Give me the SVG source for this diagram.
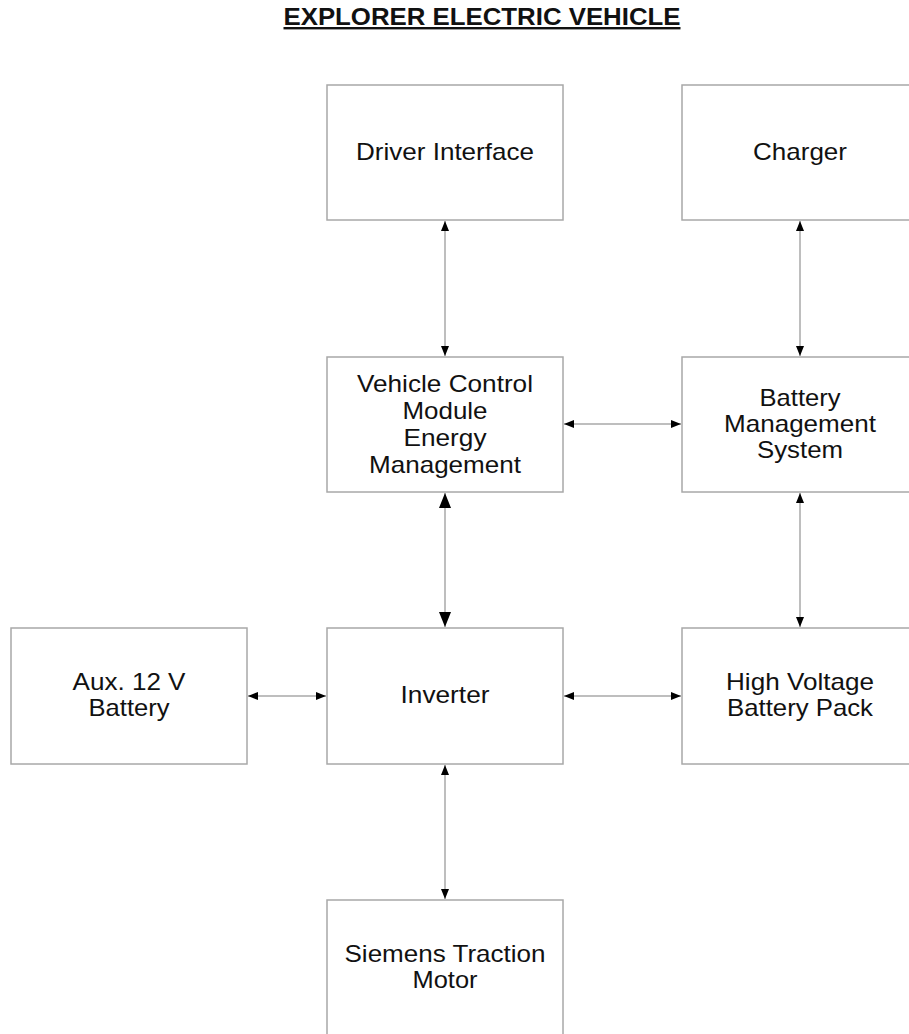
<svg xmlns="http://www.w3.org/2000/svg" width="909" height="1034" viewBox="0 0 909 1034">
<style>
.box{fill:#fff;stroke:#a8a8a8;stroke-width:1.5}
.lbl{font-family:"Liberation Sans",Arial,sans-serif;font-size:24px;fill:#111;text-anchor:middle}
.title{font-family:"Liberation Sans",Arial,sans-serif;font-size:24px;font-weight:bold;fill:#111;text-anchor:middle;text-decoration:underline}
.con{stroke:#a8a8a8;stroke-width:1.5;fill:none}
</style>
<defs>
<marker id="a" viewBox="0 0 10 8" refX="10" refY="4" markerWidth="10" markerHeight="8" markerUnits="userSpaceOnUse" orient="auto-start-reverse"><path d="M0,0 L10,4 L0,8 Z" fill="#000"/></marker>
<marker id="b" viewBox="0 0 15 12" refX="15" refY="6" markerWidth="15" markerHeight="12" markerUnits="userSpaceOnUse" orient="auto-start-reverse"><path d="M0,0 L15,6 L0,12 Z" fill="#000"/></marker>
</defs>
<rect width="909" height="1034" fill="#fff"/>
<text class="title" x="482" y="25" textLength="397" lengthAdjust="spacingAndGlyphs">EXPLORER ELECTRIC VEHICLE</text>
<g id="connectors">
<line class="con" x1="445" y1="221" x2="445" y2="356" marker-start="url(#a)" marker-end="url(#a)"/>
<line class="con" x1="800" y1="221" x2="800" y2="356" marker-start="url(#a)" marker-end="url(#a)"/>
<line class="con" x1="564" y1="424" x2="681" y2="424" marker-start="url(#a)" marker-end="url(#a)"/>
<line class="con" x1="445" y1="493" x2="445" y2="627" marker-start="url(#b)" marker-end="url(#b)"/>
<line class="con" x1="800" y1="493" x2="800" y2="627" marker-start="url(#a)" marker-end="url(#a)"/>
<line class="con" x1="248" y1="696" x2="326" y2="696" marker-start="url(#a)" marker-end="url(#a)"/>
<line class="con" x1="564" y1="696" x2="681" y2="696" marker-start="url(#a)" marker-end="url(#a)"/>
<line class="con" x1="445" y1="765" x2="445" y2="899" marker-start="url(#a)" marker-end="url(#a)"/>
</g>
<g id="driver"><rect class="box" x="327" y="85" width="236" height="135"/><text class="lbl" x="445" y="160" textLength="178" lengthAdjust="spacingAndGlyphs">Driver Interface</text></g>
<g id="charger"><rect class="box" x="682" y="85" width="236" height="135"/><text class="lbl" x="800" y="160" textLength="94" lengthAdjust="spacingAndGlyphs">Charger</text></g>
<g id="vcm"><rect class="box" x="327" y="357" width="236" height="135"/><text class="lbl" x="445" y="392" textLength="176" lengthAdjust="spacingAndGlyphs">Vehicle Control</text><text class="lbl" x="445" y="419" textLength="85" lengthAdjust="spacingAndGlyphs">Module</text><text class="lbl" x="445" y="446" textLength="83" lengthAdjust="spacingAndGlyphs">Energy</text><text class="lbl" x="445" y="473" textLength="152" lengthAdjust="spacingAndGlyphs">Management</text></g>
<g id="bms"><rect class="box" x="682" y="357" width="236" height="135"/><text class="lbl" x="800" y="406" textLength="81" lengthAdjust="spacingAndGlyphs">Battery</text><text class="lbl" x="800" y="432" textLength="152" lengthAdjust="spacingAndGlyphs">Management</text><text class="lbl" x="800" y="458" textLength="86" lengthAdjust="spacingAndGlyphs">System</text></g>
<g id="aux"><rect class="box" x="11" y="628" width="236" height="136"/><text class="lbl" x="129" y="690" textLength="113" lengthAdjust="spacingAndGlyphs">Aux. 12 V</text><text class="lbl" x="129" y="716" textLength="81" lengthAdjust="spacingAndGlyphs">Battery</text></g>
<g id="inverter"><rect class="box" x="327" y="628" width="236" height="136"/><text class="lbl" x="445" y="703" textLength="89" lengthAdjust="spacingAndGlyphs">Inverter</text></g>
<g id="hv"><rect class="box" x="682" y="628" width="236" height="136"/><text class="lbl" x="800" y="690" textLength="148" lengthAdjust="spacingAndGlyphs">High Voltage</text><text class="lbl" x="800" y="716" textLength="146" lengthAdjust="spacingAndGlyphs">Battery Pack</text></g>
<g id="motor"><rect class="box" x="327" y="900" width="236" height="140"/><text class="lbl" x="445" y="962" textLength="201" lengthAdjust="spacingAndGlyphs">Siemens Traction</text><text class="lbl" x="445" y="988" textLength="65" lengthAdjust="spacingAndGlyphs">Motor</text></g>
</svg>
